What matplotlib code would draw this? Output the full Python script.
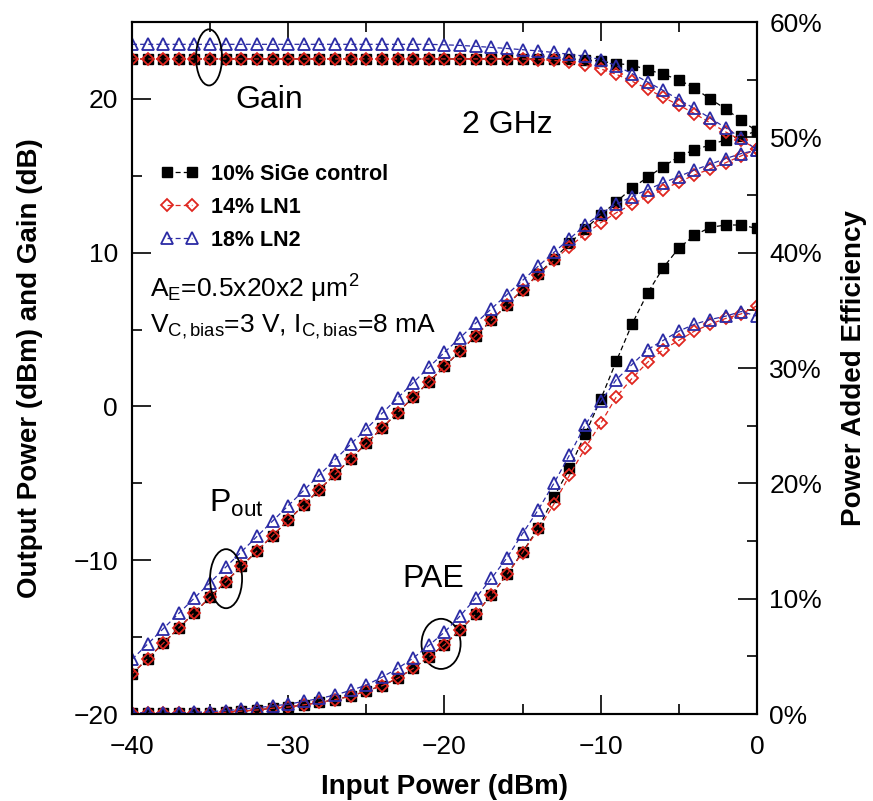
import matplotlib
matplotlib.use("Agg")
import matplotlib.pyplot as plt
from matplotlib.patches import Ellipse
from matplotlib.ticker import MultipleLocator, PercentFormatter

plt.rcParams['font.family'] = ['Liberation Sans', 'DejaVu Sans']
plt.rcParams['mathtext.fontset'] = 'custom'
plt.rcParams['mathtext.rm'] = 'Liberation Sans'
plt.rcParams['mathtext.it'] = 'Liberation Sans'
plt.rcParams['mathtext.default'] = 'regular'

# input power sweep (dBm)
pin = list(range(-40, 1))

# gain (dB)
gain_ctrl = [22.6] * 29 + [22.55, 22.45, 22.3, 22.2, 21.9, 21.6, 21.25, 20.7, 20.0, 19.35, 18.6, 17.9]
gain_ln1 = [22.6] * 26 + [22.55, 22.5, 22.4, 22.2, 21.95, 21.6, 21.15, 20.65, 20.1, 19.6, 19.05,
                          18.45, 17.85, 17.3, 16.75]
gain_ln2 = [23.55] * 20 + [23.52, 23.48, 23.42, 23.35, 23.28, 23.2, 23.12, 23.02, 22.9, 22.78,
                           22.55, 22.15, 21.65, 21.1, 20.55, 19.95, 19.38, 18.75, 18.12, 17.45, 16.67]

# output power (dBm)
pout_ctrl = [-17.4, -16.4, -15.4, -14.4, -13.4, -12.4, -11.4, -10.4, -9.4, -8.4,
             -7.4, -6.4, -5.4, -4.4, -3.4, -2.4, -1.4, -0.4, 0.6, 1.6,
             2.6, 3.6, 4.6, 5.6, 6.6, 7.6, 8.6, 9.6, 10.6, 11.55,
             12.45, 13.3, 14.2, 14.9, 15.6, 16.25, 16.7, 17.0, 17.35, 17.6, 17.9]
pout_ln1 = [-17.4, -16.4, -15.4, -14.4, -13.4, -12.4, -11.4, -10.4, -9.4, -8.4,
            -7.4, -6.4, -5.4, -4.4, -3.4, -2.4, -1.4, -0.4, 0.6, 1.6,
            2.6, 3.6, 4.6, 5.6, 6.6, 7.6, 8.55, 9.5, 10.4, 11.2,
            11.95, 12.6, 13.15, 13.65, 14.1, 14.6, 15.05, 15.45, 15.85, 16.3, 16.75]
pout_ln2 = [-16.45, -15.45, -14.45, -13.45, -12.45, -11.45, -10.45, -9.45, -8.45, -7.45,
            -6.45, -5.45, -4.45, -3.45, -2.45, -1.45, -0.45, 0.55, 1.55, 2.55,
            3.52, 4.48, 5.42, 6.35, 7.28, 8.2, 9.12, 10.02, 10.9, 11.78,
            12.55, 13.15, 13.65, 14.1, 14.55, 14.95, 15.38, 15.75, 16.12, 16.45, 16.67]

# power added efficiency (%)
pae_ctrl = [0.05, 0.05, 0.05, 0.05, 0.08, 0.1, 0.15, 0.25, 0.35, 0.5,
            0.6, 0.8, 1.0, 1.25, 1.55, 2.0, 2.45, 3.1, 3.95, 4.95,
            6.0, 7.3, 8.65, 10.35, 12.1, 14.05, 16.1, 18.8, 21.3, 24.25,
            27.3, 30.6, 33.8, 36.5, 38.7, 40.4, 41.5, 42.2, 42.4, 42.4, 42.1]
pae_ln1 = [0.05, 0.05, 0.05, 0.05, 0.08, 0.1, 0.15, 0.25, 0.35, 0.5,
           0.6, 0.8, 1.0, 1.25, 1.55, 2.0, 2.45, 3.1, 3.95, 4.95,
           6.0, 7.3, 8.65, 10.35, 12.1, 14.0, 16.0, 18.2, 20.7, 23.05,
           25.2, 27.5, 29.1, 30.5, 31.6, 32.4, 33.2, 33.8, 34.3, 34.7, 35.4]
pae_ln2 = [0.1, 0.1, 0.1, 0.1, 0.15, 0.2, 0.3, 0.4, 0.55, 0.7,
           0.85, 1.1, 1.35, 1.65, 2.05, 2.5, 3.2, 3.95, 4.85, 5.95,
           7.1, 8.5, 10.05, 11.75, 13.55, 15.65, 17.7, 20.0, 22.45, 25.05,
           27.1, 29.0, 30.3, 31.6, 32.4, 33.2, 33.8, 34.2, 34.5, 34.9, 34.5]

labels = ["10% SiGe control", "14% LN1", "18% LN2"]

RED = "#e0261f"
BLUE = "#2b2ba5"
dash = (0, (4, 2.5))
styles = [
    dict(color="black", marker="s", ms=6.5, mfc="black", mec="black"),
    dict(color=RED, marker="D", ms=6, mfc="none", mec=RED, mew=1.3),
    dict(color=BLUE, marker="^", ms=8.5, mfc="none", mec=BLUE, mew=1.3),
]

fig = plt.figure(figsize=(8.73, 8.01), dpi=100)
ax = fig.add_axes([0.1512, 0.1086, 0.7159, 0.8639])
ax2 = ax.twinx()

handles = []
for g, p, e, st, lab in zip([gain_ctrl, gain_ln1, gain_ln2], [pout_ctrl, pout_ln1, pout_ln2],
                            [pae_ctrl, pae_ln1, pae_ln2], styles, labels):
    h, = ax.plot(pin, g, ls=dash, lw=0.9, label=lab, **st)
    ax.plot(pin, p, ls=dash, lw=0.9, **st)
    ax2.plot(pin, e, ls=dash, lw=0.9, **st)
    handles.append(h)

ax.set_xlim(-40, 0)
ax.set_ylim(-20, 25)
ax2.set_ylim(0, 60)

ax.xaxis.set_major_locator(MultipleLocator(10))
ax.xaxis.set_minor_locator(MultipleLocator(5))
ax.yaxis.set_major_locator(MultipleLocator(10))
ax.yaxis.set_minor_locator(MultipleLocator(5))
ax2.yaxis.set_major_locator(MultipleLocator(10))
ax2.yaxis.set_minor_locator(MultipleLocator(5))
ax2.yaxis.set_major_formatter(PercentFormatter(decimals=0))

ax.tick_params(which='both', direction='in', top=True, right=False, width=1.2)
ax.tick_params(which='major', length=14, labelsize=19, pad=10)
ax.tick_params(which='minor', length=7)
ax.tick_params(axis='x', which='major', pad=15)
ax2.tick_params(which='both', direction='in', width=1.2)
ax2.tick_params(which='major', length=14, labelsize=19, pad=9)
ax2.tick_params(which='minor', length=7)

for a in (ax, ax2):
    for s in a.spines.values():
        s.set_linewidth(1.5)

ax.set_xlabel("Input Power (dBm)", fontsize=20, fontweight='bold')
ax.set_ylabel("Output Power (dBm) and Gain (dB)", fontsize=20, fontweight='bold')
ax2.set_ylabel("Power Added Efficiency", fontsize=20, fontweight='bold', rotation=90)
ax.xaxis.set_label_coords(0.5, -0.087)
ax.yaxis.set_label_coords(-0.142, 0.5)
ax2.yaxis.set_label_coords(1.135, 0.5)

ax.legend(handles=handles, loc='upper left', bbox_to_anchor=(0.045, 0.795),
          frameon=False, numpoints=2, handlelength=1.8, handletextpad=0.55,
          labelspacing=0.55, borderaxespad=0, borderpad=0,
          prop=dict(size=15.5, weight='bold'))

# curve group annotations
ax.text(-31.2, 19.9, "Gain", fontsize=23, ha='center', va='center')
ax.text(-16.0, 18.3, "2 GHz", fontsize=23, ha='center', va='center')
ax.text(-33.3, -6.3, "P$_{out}$", fontsize=23, ha='center', va='center')
ax.text(-20.7, -11.2, "PAE", fontsize=23, ha='center', va='center')
ax.text(-38.85, 7.1, "A$_E$=0.5x20x2 \u03bcm$^2$", fontsize=19, ha='left', va='baseline')
ax.text(-38.85, 4.8, "V$_{C,bias}$=3 V, I$_{C,bias}$=8 mA", fontsize=19, ha='left', va='baseline')

for cx, cy, w, hgt in [(-35.07, 22.7, 1.66, 3.65), (-33.98, -11.2, 2.05, 3.84), (-20.22, -15.44, 2.5, 3.26)]:
    ax.add_patch(Ellipse((cx, cy), w, hgt, fill=False, ec='black', lw=1.3, zorder=5))

fig.savefig("out.png", dpi=100)
